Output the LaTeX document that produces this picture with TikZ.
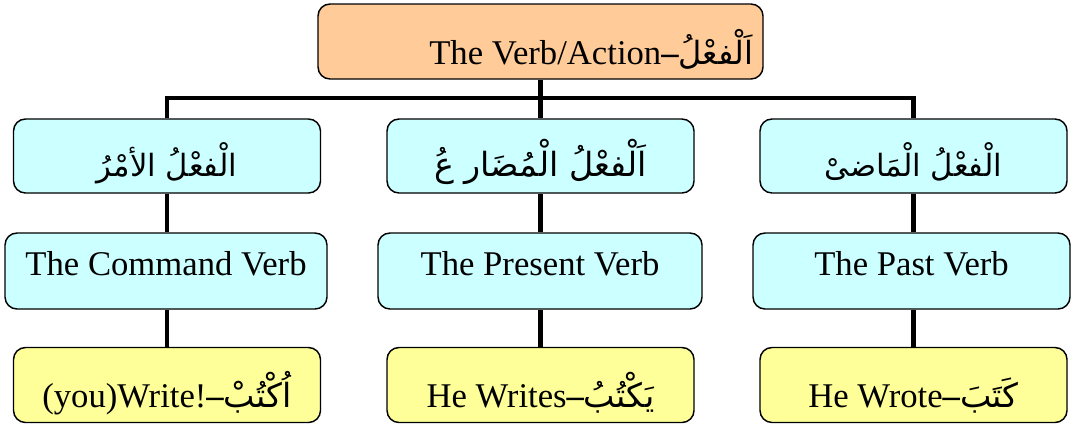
\documentclass[tikz,border=0pt]{standalone}
\usepackage{fontspec}
\setmainfont{Liberation Serif}
\newfontfamily\arabicfont[Script=Arabic]{DejaVu Sans}
\TeXXeTstate=1
\newcommand\arsz[1]{\fontsize{#1}{#1}\arabicfont}
\newcommand\dsh{{\bfseries –}}
\newcommand\lowtxt[2]{\raisebox{-#1}[0pt][0pt]{#2}}
\definecolor{peach}{HTML}{FFCC99}
\definecolor{cyanbox}{HTML}{CCFFFF}
\definecolor{yellowbox}{HTML}{FFFF99}
\begin{document}
\begin{tikzpicture}[x=0.75pt,y=-0.75pt,
  box/.style={draw=black,line width=1.1pt,rounded corners=9pt,inner sep=0pt,
    align=center,font=\fontsize{26}{30}\selectfont},
  topbox/.style={box,fill=peach,minimum width={445*0.75pt},minimum height={75*0.75pt}},
  arbox/.style={box,fill=cyanbox,minimum width={307*0.75pt},minimum height={74*0.75pt}},
  enbox/.style={box,fill=cyanbox,minimum height={76*0.75pt}},
  exbox/.style={box,fill=yellowbox,minimum width={307*0.75pt},minimum height={75*0.75pt}},
  conn/.style={draw=black,line width=3.6pt}]
\useasboundingbox (0,0) rectangle (1071,429);
\node[topbox] (top) at (540.5,41.5) {\lowtxt{17pt}{\hspace*{76pt}The Verb/Action\dsh{\arsz{24}\beginR اَلْفعْلُ\endR}}};
\node[arbox] (l2) at (167,156) {\lowtxt{15pt}{{\arsz{23}\beginR الْفعْلُ الأمْرُ\endR}}};
\node[arbox] (m2) at (540.5,156) {\lowtxt{15pt}{{\arsz{25}\beginR اَلْفعْلُ الْمُضَار عُ\endR}}};
\node[arbox] (r2) at (913.5,156) {\lowtxt{15pt}{{\arsz{23}\beginR الْفعْلُ الْمَاضىْ\endR}}};
\node[enbox,minimum width={322*0.75pt}] (l3) at (166,271) {\lowtxt{3pt}{The Command Verb}};
\node[enbox,minimum width={324*0.75pt}] (m3) at (540,271) {\lowtxt{3pt}{The Present Verb}};
\node[enbox,minimum width={317*0.75pt}] (r3) at (911.5,271) {\lowtxt{3pt}{The Past Verb}};
\node[exbox] (l4) at (167,385) {\lowtxt{17pt}{(you)Write!\dsh{\arsz{25}\beginR اُكْتُبْ\endR}}};
\node[exbox] (m4) at (540.5,385) {\lowtxt{17pt}{He Writes\dsh{\arsz{25}\beginR يَكْتُبُ\endR}}};
\node[exbox] (r4) at (913.5,385) {\lowtxt{17pt}{He Wrote\dsh{\arsz{25}\beginR كَتَبَ\endR}}};
\coordinate (j) at (540.5,98);
\draw[conn] (top.south) -- (j);
\draw[conn] (l2.north) |- (j) -| (r2.north);
\draw[conn] (j) -- (m2.north);
\draw[conn] (l2.south) -- (l2.south |- l3.north);
\draw[conn] (m2.south) -- (m2.south |- m3.north);
\draw[conn] (r2.south) -- (r2.south |- r3.north);
\draw[conn] (l2.south |- l3.south) -- (l4.north);
\draw[conn] (m2.south |- m3.south) -- (m4.north);
\draw[conn] (r2.south |- r3.south) -- (r4.north);
\end{tikzpicture}
\end{document}
